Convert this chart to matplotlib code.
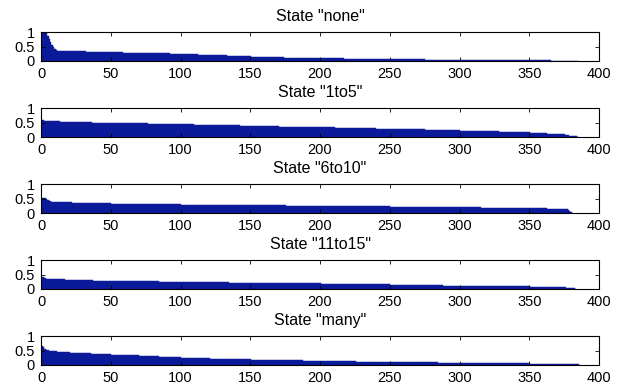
import numpy as np
import matplotlib
matplotlib.use('Agg')
import matplotlib.pyplot as plt

plt.rcParams['font.family'] = ['Liberation Sans', 'DejaVu Sans']
plt.rcParams['font.size'] = 10.5

# sorted bar heights per state as (level, number of bars) runs
titles = ['State "none"', 'State "1to5"', 'State "6to10"', 'State "11to15"', 'State "many"']

none_levels = [1.0, 0.95, 0.85, 0.75, 0.65, 0.56, 0.48, 0.42, 0.37, 0.35,
               0.34, 0.33, 0.32, 0.31,
               0.30, 0.29, 0.28, 0.27, 0.26, 0.25,
               0.24, 0.23, 0.22, 0.21, 0.20, 0.19, 0.18, 0.17, 0.16,
               0.15, 0.14, 0.13, 0.12, 0.11, 0.10,
               0.09, 0.08, 0.07,
               0.06, 0.05,
               0.04, 0.03, 0.02,
               0.02, 0.01]
none_runs = [3, 1, 1, 1, 1, 1, 1, 1, 1, 1,
             10, 10, 9, 9,
             8, 8, 8, 9, 9, 8,
             6, 6, 6, 5, 5, 5, 6, 6, 5,
             8, 8, 8, 9, 9, 8,
             17, 17, 16,
             25, 25,
             17, 17, 16,
             15, 20]

low_levels = [0.58, 0.57, 0.56, 0.55,
              0.54, 0.53,
              0.52, 0.51, 0.50, 0.49,
              0.48, 0.47, 0.46, 0.45,
              0.44, 0.43, 0.42, 0.41, 0.40, 0.39,
              0.38, 0.37, 0.36, 0.35, 0.34,
              0.33, 0.32, 0.31, 0.30, 0.29,
              0.28, 0.27, 0.26, 0.25, 0.24, 0.23,
              0.22, 0.21, 0.20, 0.19, 0.18, 0.17, 0.16,
              0.15, 0.14, 0.13, 0.12, 0.11, 0.10, 0.09,
              0.08, 0.07, 0.06, 0.05, 0.04, 0.03, 0.02, 0.01]
low_runs = [1, 1, 1, 3,
            7, 7,
            8, 8, 7, 7,
            13, 13, 12, 12,
            9, 8, 8, 8, 9, 8,
            10, 10, 10, 10, 10,
            10, 10, 10, 10, 10,
            9, 8, 8, 8, 9, 8,
            7, 7, 7, 7, 7, 8, 7,
            4, 4, 4, 4, 3, 3, 3,
            1, 1, 1, 1, 2, 2, 1, 1]

mid_levels = [0.52, 0.50, 0.45, 0.41, 0.40,
              0.39, 0.38, 0.37, 0.36, 0.35, 0.34, 0.33,
              0.32, 0.31, 0.30,
              0.29, 0.28, 0.27,
              0.26, 0.25,
              0.24, 0.23,
              0.22, 0.21, 0.20, 0.19,
              0.18, 0.17,
              0.16, 0.15,
              0.14, 0.13, 0.10, 0.06, 0.03, 0.01]
mid_runs = [3, 1, 1, 1, 1,
            5, 5, 5, 6, 6, 8, 8,
            17, 17, 16,
            17, 17, 16,
            25, 35,
            20, 20,
            15, 15, 10, 25,
            20, 15,
            12, 13,
            1, 1, 1, 1, 1, 1]

high_levels = [0.41, 0.40, 0.38, 0.36, 0.35,
               0.34, 0.33, 0.32, 0.31, 0.30, 0.29, 0.28,
               0.27, 0.26, 0.25,
               0.24, 0.23, 0.22,
               0.21, 0.20, 0.19,
               0.18, 0.17, 0.16,
               0.15, 0.14, 0.13, 0.12,
               0.11, 0.10, 0.09,
               0.08, 0.07,
               0.06, 0.05, 0.04, 0.03, 0.02, 0.01]
high_runs = [1, 1, 1, 1, 1,
             6, 6, 6, 7, 7, 7, 6,
             17, 17, 16,
             17, 17, 16,
             17, 17, 16,
             17, 17, 16,
             13, 13, 12, 12,
             17, 17, 16,
             12, 13,
             1, 2, 1, 1, 2, 1]

many_levels = [0.66, 0.62, 0.56, 0.53, 0.52, 0.50, 0.49, 0.48,
               0.47, 0.46, 0.45, 0.44,
               0.43, 0.42, 0.41, 0.40, 0.39, 0.38, 0.37,
               0.36, 0.35, 0.34, 0.33, 0.32, 0.31, 0.30, 0.29, 0.28, 0.27, 0.26,
               0.25, 0.24, 0.23, 0.22, 0.21, 0.20, 0.19,
               0.18, 0.17, 0.16, 0.15,
               0.14, 0.13, 0.12, 0.11,
               0.10, 0.09, 0.08,
               0.07, 0.06,
               0.05, 0.04, 0.03, 0.02]
many_runs = [1, 1, 1, 1, 1, 1, 1, 1,
             3, 3, 3, 3,
             3, 4, 4, 4, 5, 5, 5,
             5, 5, 5, 5, 5, 5, 4, 4, 4, 4, 4,
             7, 7, 7, 7, 7, 8, 7,
             12, 13, 12, 13,
             12, 13, 12, 13,
             17, 17, 16,
             25, 25,
             12, 10, 8, 5]

series = [
    np.repeat(none_levels, none_runs),
    np.repeat(low_levels, low_runs),
    np.repeat(mid_levels, mid_runs),
    np.repeat(high_levels, high_runs),
    np.repeat(many_levels, many_runs),
]

bar_color = '#0a1a98'

fig = plt.figure(figsize=(6.26, 3.88), dpi=100)
W, H = 626.0, 388.0
left, width = 41, 558
for k, (vals, title) in enumerate(zip(series, titles)):
    top = 32 + 76 * k
    h = 29
    ax = fig.add_axes([left / W, 1 - (top + h) / H, width / W, h / H])
    x = np.arange(1, len(vals) + 1)
    ax.bar(x, vals, width=1.0, color=bar_color, edgecolor=bar_color, linewidth=0.3)
    ax.set_xlim(0, 400)
    ax.set_ylim(0, 1)
    ax.set_xticks(np.arange(0, 401, 50))
    ax.set_yticks([0, 0.5, 1])
    ax.set_yticklabels(['0', '0.5', '1'])
    ax.tick_params(direction='in', top=True, right=True, length=3, width=0.6,
                   labelsize=10.5, pad=4.5)
    for s in ax.spines.values():
        s.set_linewidth(0.8)
    ax.set_title(title, fontsize=11.5, pad=8)

fig.savefig('out.png', dpi=100)
